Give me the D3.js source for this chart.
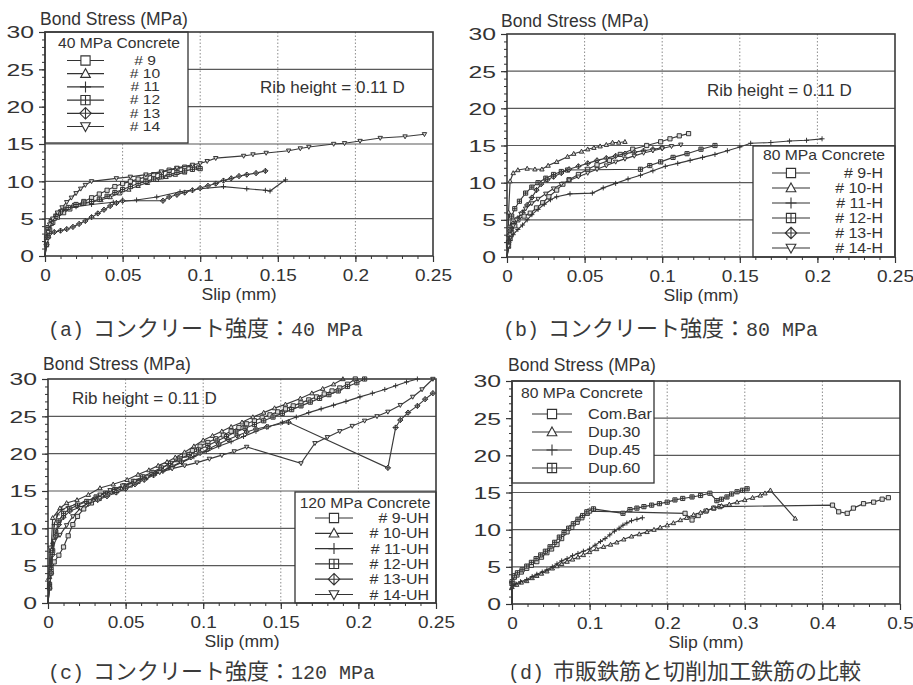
<!DOCTYPE html>
<html>
<head>
<meta charset="utf-8">
<script src="https://cdn.jsdelivr.net/npm/d3@7"></script>
<style>
  html, body { margin: 0; padding: 0; background: #fff; }
  svg { display: block; }
</style>
</head>
<body>
<svg id="chart" width="913" height="685"></svg>
<script>
// ---------- tick labels ----------
const stressTicks = [0, 5, 10, 15, 20, 25, 30];
const slipTicksSmall = [0, 0.05, 0.1, 0.15, 0.2, 0.25];
const slipTicksLarge = [0, 0.1, 0.2, 0.3, 0.4, 0.5];

// ---------- legend names and captions ----------
const namesA = ["# 9", "# 10", "# 11", "# 12", "# 13", "# 14"];
const namesB = ["# 9-H", "# 10-H", "# 11-H", "# 12-H", "# 13-H", "# 14-H"];
const namesC = ["# 9-UH", "# 10-UH", "# 11-UH", "# 12-UH", "# 13-UH", "# 14-UH"];
const namesD = ["Com.Bar", "Dup.30", "Dup.45", "Dup.60"];
const legendTitles = ["40 MPa Concrete", "80 MPa Concrete", "120 MPa Concrete", "80 MPa Concrete"];
const captions = [
  ["(a)", "コンクリート強度：", "40 MPa"],
  ["(b)", "コンクリート強度：", "80 MPa"],
  ["(c)", "コンクリート強度：", "120 MPa"],
  ["(d)", "市販鉄筋と切削加工鉄筋の比較", ""]
];
const ribLabel = "Rib height = 0.11 D";

// ---------- (a) 40 MPa concrete: [slip mm, bond stress MPa] ----------
const a_no9 = [[0,0],[0.001,1.5],[0.002,2.6],[0.003,3.5],[0.005,4.5],[0.008,5.2],[0.012,5.8],[0.016,6.3],[0.02,6.8],[0.025,7.3],[0.03,7.8],[0.035,8.3],[0.04,8.8],[0.045,9.3],[0.05,9.7],[0.055,10.0],[0.06,10.3],[0.065,10.6],[0.07,10.9],[0.075,11.2],[0.08,11.5],[0.085,11.7],[0.09,11.9],[0.095,12.0],[0.099,11.8]];
const a_no10 = [[0,0],[0.001,2],[0.002,3.3],[0.004,4.3],[0.006,5.0],[0.009,5.7],[0.013,6.3],[0.018,6.8],[0.024,7.0],[0.03,7.2],[0.036,7.5],[0.042,7.9],[0.048,8.4],[0.054,8.9],[0.06,9.4],[0.066,9.8],[0.072,10.2],[0.078,10.6],[0.084,10.9],[0.09,11.2]];
const a_no11 = [[0,0],[0.001,2.2],[0.002,3.6],[0.004,4.8],[0.007,5.6],[0.012,6.2],[0.02,6.6],[0.03,6.9],[0.044,7.2],[0.059,7.5],[0.072,7.9],[0.087,8.6],[0.1,9.0],[0.115,9.3],[0.13,9.0],[0.142,8.8],[0.145,8.7],[0.155,10.2]];
const a_no12 = [[0,0],[0.001,2.5],[0.002,3.8],[0.004,4.6],[0.007,5.3],[0.01,5.9],[0.015,6.5],[0.02,6.9],[0.025,7.1],[0.03,7.3],[0.035,7.6],[0.04,8.0],[0.045,8.5],[0.05,8.9],[0.055,9.3],[0.06,9.7],[0.065,10.0],[0.07,10.3],[0.075,10.6],[0.08,10.9],[0.085,11.2],[0.09,11.4],[0.095,11.6],[0.1,11.7]];
const a_no13 = [[0,0],[0.001,1.5],[0.002,2.5],[0.003,3.0],[0.006,3.2],[0.01,3.4],[0.014,3.6],[0.018,3.9],[0.022,4.3],[0.026,4.7],[0.03,5.2],[0.034,5.7],[0.038,6.2],[0.042,6.7],[0.046,7.1],[0.05,7.4],[0.076,7.4],[0.08,7.9],[0.085,8.2],[0.09,8.5],[0.095,8.8],[0.1,9.1],[0.105,9.4],[0.11,9.7],[0.115,10.1],[0.12,10.4],[0.125,10.7],[0.13,10.9],[0.136,11.1],[0.142,11.4]];
const a_no14 = [[0,0],[0.001,2],[0.002,3.2],[0.003,4.2],[0.005,5.0],[0.008,5.8],[0.011,6.5],[0.014,7.2],[0.017,7.8],[0.02,8.4],[0.023,9.0],[0.026,9.5],[0.03,10.0],[0.046,10.4],[0.055,10.6],[0.065,10.9],[0.075,11.3],[0.085,11.8],[0.095,12.2],[0.1,12.4],[0.1045,12.7],[0.11,13.1],[0.128,13.4],[0.134,13.6],[0.1425,13.8],[0.157,14.1],[0.1645,14.4],[0.17,14.6],[0.186,15.0],[0.193,15.1],[0.203,15.4],[0.216,15.8],[0.232,16.0],[0.2445,16.3]];

// ---------- (b) 80 MPa concrete ----------
const b_no9 = [[0,0],[0.001,1.5],[0.002,2.5],[0.003,3.3],[0.005,4.2],[0.007,5.0],[0.011,5.5],[0.015,5.9],[0.019,6.6],[0.023,7.3],[0.027,8.1],[0.032,9.0],[0.036,9.8],[0.04,10.4],[0.046,11.1],[0.052,11.8],[0.058,12.4],[0.066,13.0],[0.073,13.8],[0.081,14.5],[0.09,15.0],[0.099,15.5],[0.105,15.9],[0.111,16.3],[0.117,16.6]];
const b_no10 = [[0,0],[0.001,3],[0.001,6],[0.002,10.2],[0.004,11.3],[0.007,11.7],[0.013,11.9],[0.018,11.8],[0.0225,11.8],[0.0265,12.3],[0.032,12.8],[0.039,13.5],[0.043,13.9],[0.048,14.2],[0.052,14.5],[0.056,14.7],[0.06,14.9],[0.064,15.1],[0.068,15.4],[0.072,15.4],[0.076,15.5]];
const b_no11 = [[0,0],[0.001,1.2],[0.002,2.2],[0.004,3.0],[0.007,3.7],[0.01,4.3],[0.013,5.0],[0.016,5.7],[0.02,6.4],[0.024,7.1],[0.028,7.7],[0.032,8.1],[0.0406,8.5],[0.055,8.6],[0.062,9.3],[0.07,9.9],[0.078,10.5],[0.086,11.0],[0.094,11.6],[0.102,12.2],[0.11,12.6],[0.118,13.0],[0.126,13.4],[0.134,13.8],[0.142,14.3],[0.15,14.8],[0.157,15.3],[0.17,15.4],[0.182,15.6],[0.193,15.7],[0.203,15.9]];
const b_no12 = [[0,0],[0.001,2],[0.002,4],[0.003,5.5],[0.005,6.5],[0.008,7.5],[0.012,8.6],[0.016,9.4],[0.02,10.0],[0.025,10.6],[0.03,11.1],[0.035,11.5],[0.039,11.7],[0.086,11.8],[0.092,12.3],[0.099,12.8],[0.107,13.4],[0.116,13.9],[0.125,14.5],[0.134,15.0]];
const b_no13 = [[0,0],[0.001,2],[0.002,3.5],[0.004,4.5],[0.007,5.2],[0.01,6.0],[0.013,7.0],[0.016,8.0],[0.019,9.0],[0.022,9.8],[0.026,10.4],[0.03,10.8],[0.035,11.3],[0.04,11.8],[0.046,12.2],[0.052,12.6],[0.058,13.0],[0.064,13.3],[0.07,13.6],[0.076,13.9],[0.082,14.1],[0.088,14.3],[0.094,14.5],[0.1,14.7]];
const b_no14 = [[0,0],[0.001,1.5],[0.002,3.0],[0.004,4.2],[0.006,5.0],[0.009,5.8],[0.012,6.5],[0.016,7.2],[0.02,7.8],[0.025,8.5],[0.03,9.2],[0.035,9.8],[0.04,10.3],[0.046,10.8],[0.052,11.3],[0.058,11.8],[0.064,12.3],[0.07,12.8],[0.076,13.2],[0.082,13.6],[0.088,14.0],[0.094,14.3],[0.1,14.6],[0.106,14.9],[0.112,15.1]];

// ---------- (c) 120 MPa concrete ----------
const c_no9 = [[0,0],[0.001,2.5],[0.002,4],[0.004,5.5],[0.007,6.4],[0.01,7.5],[0.013,9.0],[0.016,10.5],[0.019,11.6],[0.023,12.6],[0.028,13.4],[0.033,14.0],[0.038,14.5],[0.043,14.9],[0.048,15.4],[0.053,15.8],[0.058,16.3],[0.063,16.8],[0.068,17.4],[0.073,18.0],[0.078,18.6],[0.083,19.2],[0.088,19.8],[0.093,20.4],[0.098,21.0],[0.103,21.5],[0.108,22.0],[0.113,22.5],[0.118,23.0],[0.123,23.5],[0.128,24.0],[0.133,24.4],[0.138,24.8],[0.143,25.2],[0.148,25.6],[0.153,26.0],[0.158,26.4],[0.163,26.8],[0.168,27.2],[0.173,27.6],[0.178,28.0],[0.183,28.4],[0.188,28.8],[0.193,29.3],[0.198,30]];
const c_no10 = [[0,0],[0.001,3.5],[0.002,7],[0.003,11.4],[0.0077,12.7],[0.012,13.4],[0.0187,13.8],[0.026,14.5],[0.0335,15.4],[0.042,15.9],[0.051,16.5],[0.058,17.2],[0.065,17.8],[0.071,18.4],[0.0767,18.9],[0.082,19.5],[0.088,20.2],[0.094,21.0],[0.1,21.8],[0.106,22.4],[0.112,23.0],[0.118,23.6],[0.125,24.2],[0.132,24.9],[0.139,25.5],[0.146,26.1],[0.153,26.6],[0.1626,27.4],[0.17,28.1],[0.177,28.7],[0.184,29.3],[0.19,30]];
const c_no11 = [[0,0],[0.001,2.5],[0.002,5],[0.003,8],[0.004,10.5],[0.006,11.8],[0.009,12.5],[0.013,12.9],[0.018,13.2],[0.024,13.6],[0.03,14.1],[0.036,14.6],[0.042,15.1],[0.048,15.6],[0.055,16.1],[0.062,16.7],[0.07,17.4],[0.078,18.1],[0.086,18.8],[0.094,19.6],[0.102,20.3],[0.11,21.0],[0.118,21.6],[0.126,22.3],[0.134,23.0],[0.142,23.6],[0.151,24.2],[0.16,24.9],[0.168,25.5],[0.176,26.0],[0.184,26.5],[0.192,27.0],[0.201,27.6],[0.209,28.1],[0.217,28.6],[0.224,29.1],[0.231,29.6],[0.238,30]];
const c_no12 = [[0,0],[0.001,2],[0.002,4.5],[0.003,7],[0.005,9.5],[0.007,11],[0.01,12],[0.014,12.6],[0.019,13.1],[0.025,13.6],[0.031,14.2],[0.037,14.7],[0.043,15.2],[0.049,15.7],[0.055,16.3],[0.061,16.9],[0.067,17.5],[0.073,18.1],[0.079,18.7],[0.085,19.3],[0.091,19.9],[0.097,20.5],[0.103,21.1],[0.109,21.7],[0.115,22.3],[0.121,22.9],[0.127,23.4],[0.133,23.9],[0.139,24.4],[0.145,24.9],[0.151,25.4],[0.157,25.9],[0.163,26.4],[0.169,26.9],[0.175,27.4],[0.181,27.9],[0.187,28.4],[0.193,29.0],[0.199,29.5],[0.204,30]];
const c_no13 = [[0,0],[0.001,2],[0.002,4],[0.003,6.5],[0.005,9],[0.007,10.5],[0.01,11.5],[0.014,12.3],[0.02,12.8],[0.026,13.3],[0.032,13.8],[0.038,14.3],[0.044,14.8],[0.05,15.3],[0.056,15.9],[0.062,16.5],[0.068,17.1],[0.074,17.7],[0.08,18.3],[0.086,18.9],[0.092,19.5],[0.098,20.1],[0.104,20.7],[0.11,21.3],[0.116,21.9],[0.122,22.4],[0.128,22.9],[0.134,23.3],[0.141,23.6],[0.155,24.2],[0.219,18.1],[0.224,23.5],[0.227,24.5],[0.232,25.5],[0.238,26.4],[0.243,27.3],[0.248,28.1]];
const c_no14 = [[0,0],[0.0005,3],[0.0013,7.4],[0.004,8.3],[0.0077,9.1],[0.012,10.4],[0.016,11.6],[0.021,12.7],[0.027,13.6],[0.0335,14.5],[0.04,15.1],[0.048,15.7],[0.056,16.3],[0.064,16.9],[0.072,17.5],[0.08,18.0],[0.088,18.4],[0.096,18.8],[0.104,19.3],[0.112,19.8],[0.12,20.3],[0.128,20.9],[0.163,18.7],[0.172,21.4],[0.18,22.2],[0.188,23.0],[0.196,23.7],[0.204,24.4],[0.212,25.0],[0.219,25.6],[0.227,26.5],[0.235,27.6],[0.241,28.6],[0.248,30]];

// ---------- (d) commercial vs machined bars, 80 MPa concrete ----------
const d_com = [[0,0],[0,2.8],[0.003,3.6],[0.0065,3.9],[0.012,4.3],[0.019,4.8],[0.025,5.2],[0.032,5.7],[0.038,6.3],[0.045,6.9],[0.051,7.4],[0.058,8.0],[0.064,8.8],[0.071,9.7],[0.077,10.3],[0.084,11.0],[0.09,11.6],[0.097,12.2],[0.1,12.5],[0.223,12.2],[0.232,11.3],[0.24,11.9],[0.25,12.5],[0.26,12.9],[0.268,13.1],[0.413,13.3],[0.421,12.4],[0.432,12.2],[0.44,12.9],[0.453,13.5],[0.466,13.7],[0.477,14.1],[0.485,14.3]];
const d_dup30 = [[0,0],[0,2.3],[0.006,2.6],[0.012,2.9],[0.019,3.1],[0.026,3.5],[0.032,3.8],[0.038,4.1],[0.045,4.4],[0.052,4.8],[0.058,5.1],[0.064,5.4],[0.071,5.7],[0.078,6.0],[0.085,6.3],[0.092,6.6],[0.1,7.0],[0.109,7.4],[0.118,7.7],[0.127,8.0],[0.135,8.3],[0.144,8.7],[0.154,9.1],[0.164,9.4],[0.174,9.7],[0.183,10.0],[0.191,10.3],[0.2,10.6],[0.208,10.9],[0.217,11.3],[0.225,11.6],[0.234,12.0],[0.243,12.3],[0.251,12.6],[0.26,12.9],[0.27,13.2],[0.28,13.4],[0.29,13.7],[0.3,14.0],[0.31,14.3],[0.32,14.6],[0.326,14.9],[0.333,15.3],[0.365,11.5]];
const d_dup45 = [[0,0],[0,2.5],[0.005,2.7],[0.011,3.0],[0.019,3.3],[0.026,3.7],[0.032,4.0],[0.039,4.3],[0.045,4.6],[0.052,5.0],[0.058,5.4],[0.064,5.8],[0.071,6.1],[0.078,6.5],[0.085,6.8],[0.092,7.1],[0.1,7.4],[0.107,7.9],[0.114,8.4],[0.12,8.8],[0.126,9.3],[0.132,9.8],[0.138,10.2],[0.143,10.6],[0.148,10.9],[0.154,11.2],[0.161,11.4],[0.168,11.6]];
const d_dup60 = [[0,0],[0,3.0],[0.003,3.8],[0.007,4.2],[0.013,4.6],[0.019,5.1],[0.025,5.6],[0.031,6.1],[0.037,6.6],[0.043,7.1],[0.049,7.7],[0.055,8.3],[0.061,9.0],[0.067,9.6],[0.073,10.2],[0.079,10.8],[0.085,11.4],[0.091,11.9],[0.0964,12.4],[0.105,12.8],[0.143,12.2],[0.152,12.7],[0.161,12.9],[0.17,13.1],[0.18,13.3],[0.19,13.5],[0.2,13.7],[0.21,14.0],[0.22,14.2],[0.232,14.4],[0.243,14.6],[0.255,14.9],[0.264,13.9],[0.27,14.1],[0.277,14.4],[0.283,14.8],[0.29,15.1],[0.297,15.3],[0.303,15.5]];

// ---------- style ----------
const INK = "#333";
const SANS = "'Liberation Sans', Arial, sans-serif";
const MONO = "'Liberation Mono', monospace";
const CJK = "'Noto Sans CJK JP', sans-serif";
const shapes = ["square", "triUp", "plus", "squarePlus", "diamondPlus", "triDown"];

function markerPath(type, h) {
  const sq = `M${-h},${-h}H${h}V${h}H${-h}Z`;
  const pl = `M${-h},0H${h}M0,${-h}V${h}`;
  switch (type) {
    case "square": return sq;
    case "triUp": return `M0,${-h * 1.1}L${h * 1.05},${h * 0.8}L${-h * 1.05},${h * 0.8}Z`;
    case "triDown": return `M0,${h * 1.1}L${h * 1.05},${-h * 0.8}L${-h * 1.05},${-h * 0.8}Z`;
    case "plus": return `M${-h * 1.2},0H${h * 1.2}M0,${-h * 1.2}V${h * 1.2}`;
    case "squarePlus": return sq + pl;
    case "diamondPlus": return `M0,${-h * 1.25}L${h * 1.25},0L0,${h * 1.25}L${-h * 1.25},0Z` + `M${-h * 1.25},0H${h * 1.25}M0,${-h * 1.25}V${h * 1.25}`;
  }
}

const svg = d3.select("#chart");
svg.append("rect").attr("width", 913).attr("height", 685).attr("fill", "#fff");

function stretchText(g, x, y, str, o) {
  return g.append("text")
    .attr("transform", `translate(${x},${y}) scale(${o.sx || 1},1)`)
    .attr("text-anchor", o.anchor || "start")
    .attr("dominant-baseline", "central")
    .attr("font-family", o.family || SANS)
    .attr("font-size", o.size)
    .attr("fill", INK)
    .text(str);
}

const panels = [
  { left: 45, right: 433, top: 32, bottom: 256, xMax: 0.25, xTicks: slipTicksSmall, minor: 0.01,
    title: [40, 19], rib: [260, 87], caption: [48, 336],
    legend: { x0: 45, y0: 32, x1: 188, y1: 143, tx: 119, ty: 43, row0: 60.5, step: 13.2, s0: 67, s1: 104, textX: 145, anchor: "middle", fs: 12.2, sx: 1.28 },
    names: namesA, series: [a_no9, a_no10, a_no11, a_no12, a_no13, a_no14] },
  { left: 507, right: 895, top: 34, bottom: 257, xMax: 0.25, xTicks: slipTicksSmall, minor: 0.01,
    title: [501, 21], rib: [707, 90], caption: [503, 336],
    legend: { x0: 753, y0: 146, x1: 895, y1: 257, tx: 824, ty: 155, row0: 173, step: 15, s0: 772, s1: 810, textX: 883, anchor: "end", fs: 14, sx: 1.14 },
    names: namesB, series: [b_no9, b_no10, b_no11, b_no12, b_no13, b_no14] },
  { left: 48, right: 436, top: 379, bottom: 603, xMax: 0.25, xTicks: slipTicksSmall, minor: 0.01,
    title: [43, 364], rib: [72, 398], caption: [48, 679],
    legend: { x0: 295, y0: 492, x1: 436, y1: 603, tx: 365, ty: 503, row0: 518, step: 15.3, s0: 315, s1: 353, textX: 429, anchor: "end", fs: 14, sx: 1.14 },
    names: namesC, series: [c_no9, c_no10, c_no11, c_no12, c_no13, c_no14] },
  { left: 512, right: 900, top: 381, bottom: 604, xMax: 0.5, xTicks: slipTicksLarge, minor: 0.02,
    title: [508, 365], rib: null, caption: [508, 679],
    legend: { x0: 512, y0: 381, x1: 654, y1: 483, tx: 582, ty: 393, row0: 414, step: 18, s0: 532, s1: 572, textX: 588, anchor: "start", fs: 14.5, sx: 1.12 },
    names: namesD, series: [d_com, d_dup30, d_dup45, d_dup60] }
];

panels.forEach((p, pi) => {
  const x = d3.scaleLinear().domain([0, p.xMax]).range([p.left, p.right]);
  const y = d3.scaleLinear().domain([0, 30]).range([p.bottom, p.top]);
  const g = svg.append("g");

  // dotted vertical grid
  g.selectAll(null).data(p.xTicks.slice(1, -1)).join("line")
    .attr("x1", d => x(d)).attr("x2", d => x(d))
    .attr("y1", p.top).attr("y2", p.bottom)
    .attr("stroke", "#8c8c8c").attr("stroke-width", 1).attr("stroke-dasharray", "1.5,2");

  // solid horizontal grid
  g.selectAll(null).data(stressTicks.slice(1, -1)).join("line")
    .attr("x1", p.left).attr("x2", p.right)
    .attr("y1", d => y(d)).attr("y2", d => y(d))
    .attr("stroke", "#595959").attr("stroke-width", 1.2);

  // curves with markers
  const clipId = "clip" + pi;
  svg.append("clipPath").attr("id", clipId).append("rect")
    .attr("x", p.left - 6).attr("y", p.top - 6)
    .attr("width", p.right - p.left + 12).attr("height", p.bottom - p.top + 12);
  const cg = g.append("g").attr("clip-path", `url(#${clipId})`);
  const line = d3.line().x(d => x(d[0])).y(d => y(d[1]));
  p.series.forEach((data, si) => {
    cg.append("path").datum(data).attr("d", line)
      .attr("fill", "none").attr("stroke", "#3a3a3a").attr("stroke-width", 1.15);
    cg.selectAll(null).data(data.filter(d => d[1] > 0)).join("path")
      .attr("transform", d => `translate(${x(d[0])},${y(d[1])})`)
      .attr("d", markerPath(shapes[si], 2.1))
      .attr("fill", shapes[si] === "plus" ? "none" : "#d9d9d9")
      .attr("stroke", "#2e2e2e").attr("stroke-width", 0.95);
  });

  // legend
  const L = p.legend;
  const lg = g.append("g");
  lg.append("rect").attr("x", L.x0).attr("y", L.y0)
    .attr("width", L.x1 - L.x0).attr("height", L.y1 - L.y0)
    .attr("fill", "#fff").attr("stroke", INK).attr("stroke-width", 1.3);
  stretchText(lg, L.tx, L.ty, legendTitles[pi], { size: 14, sx: 1.12, anchor: "middle" });
  p.names.forEach((nm, i) => {
    const yy = L.row0 + i * L.step;
    lg.append("line").attr("x1", L.s0).attr("x2", L.s1).attr("y1", yy).attr("y2", yy)
      .attr("stroke", INK).attr("stroke-width", 1.2);
    lg.append("path").attr("transform", `translate(${(L.s0 + L.s1) / 2},${yy})`)
      .attr("d", markerPath(shapes[i], 4.6))
      .attr("fill", shapes[i] === "plus" ? "none" : "#fff")
      .attr("stroke", INK).attr("stroke-width", 1.1);
    stretchText(lg, L.textX, yy, nm, { size: L.fs, sx: L.sx, anchor: L.anchor });
  });

  // frame
  g.append("rect").attr("x", p.left).attr("y", p.top)
    .attr("width", p.right - p.left).attr("height", p.bottom - p.top)
    .attr("fill", "none").attr("stroke", "#3a3a3a").attr("stroke-width", 1.6);

  // y axis: major + minor ticks
  const ya = g.append("g").attr("transform", `translate(${p.left},0)`)
    .call(d3.axisLeft(y).tickValues(stressTicks).tickSize(6).tickFormat(d => String(d)));
  ya.select(".domain").remove();
  ya.attr("font-family", SANS).attr("font-size", 16.5);
  ya.selectAll(".tick line").attr("stroke", INK).attr("stroke-width", 1.2);
  ya.selectAll(".tick text")
    .attr("x", 0).attr("dy", null).attr("fill", INK)
    .attr("dominant-baseline", "central").attr("text-anchor", "end")
    .attr("transform", "translate(-11,0) scale(1.5,1)");
  const yMinor = g.append("g").attr("transform", `translate(${p.left},0)`)
    .call(d3.axisLeft(y).tickValues(d3.range(0, 31, 1)).tickSize(3).tickFormat(""));
  yMinor.select(".domain").remove();
  yMinor.selectAll(".tick line").attr("stroke", INK).attr("stroke-width", 1);

  // x axis: major + minor ticks
  const xa = g.append("g").attr("transform", `translate(0,${p.bottom})`)
    .call(d3.axisBottom(x).tickValues(p.xTicks).tickSize(6).tickFormat(d => String(d)));
  xa.select(".domain").remove();
  xa.attr("font-family", SANS).attr("font-size", 16.5);
  xa.selectAll(".tick line").attr("stroke", INK).attr("stroke-width", 1.2);
  xa.selectAll(".tick text")
    .attr("y", 0).attr("dy", null).attr("fill", INK)
    .attr("dominant-baseline", "central")
    .attr("transform", "translate(0,19) scale(1.15,1)");
  const nMinor = Math.round(p.xMax / p.minor);
  const xMinor = g.append("g").attr("transform", `translate(0,${p.bottom})`)
    .call(d3.axisBottom(x).tickValues(d3.range(0, nMinor + 1).map(k => k * p.minor)).tickSize(3).tickFormat(""));
  xMinor.select(".domain").remove();
  xMinor.selectAll(".tick line").attr("stroke", INK).attr("stroke-width", 1);

  // titles
  stretchText(g, p.title[0], p.title[1], "Bond Stress (MPa)", { size: 17.5 });
  stretchText(g, (p.left + p.right) / 2, p.bottom + 39, "Slip (mm)", { size: 16, sx: 1.1, anchor: "middle" });
  if (p.rib) stretchText(g, p.rib[0], p.rib[1], ribLabel, { size: 17 });

  // caption
  const cap = captions[pi];
  const ct = svg.append("text").attr("y", p.caption[1]).attr("fill", "#3a3a3a");
  ct.append("tspan").attr("x", p.caption[0]).attr("font-family", MONO).attr("font-size", 20).text(cap[0]);
  ct.append("tspan").attr("x", p.caption[0] + 45).attr("font-family", CJK).attr("font-size", 22).text(cap[1]);
  if (cap[2]) ct.append("tspan").attr("font-family", MONO).attr("font-size", 20).text(cap[2]);
});
</script>
</body>
</html>
